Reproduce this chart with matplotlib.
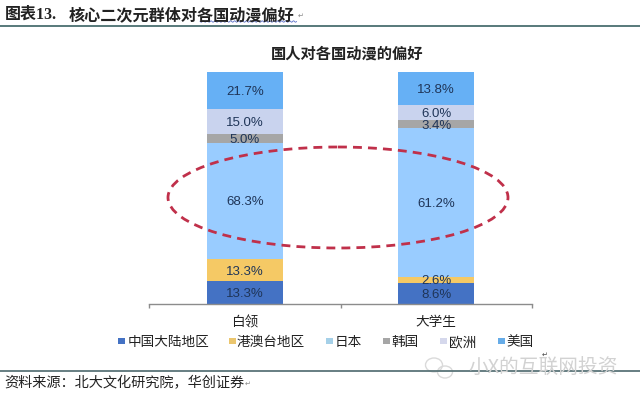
import matplotlib
matplotlib.use('Agg')
import matplotlib.pyplot as plt
from matplotlib.patches import Ellipse, Rectangle
import numpy as np

plt.rcParams['font.family'] = ['Noto Sans CJK SC', 'DejaVu Sans']

categories = ['白领', '大学生']
series_names = ['中国大陆地区', '港澳台地区', '日本', '韩国', '欧洲', '美国']
mainland = [13.3, 8.6]
hk_tw = [13.3, 2.6]
japan = [68.3, 61.2]
korea = [5.0, 3.4]
europe = [15.0, 6.0]
usa = [21.7, 13.8]
series = [mainland, hk_tw, japan, korea, europe, usa]
colors = ['#4472C4', '#F5C965', '#99CCFF', '#A6A6A6', '#C9D3EE', '#66B0F5']
legend_colors = ['#4472C4', '#EBC66E', '#A5D0E8', '#A6A6A6', '#D5D8EC', '#66ACE8']

W, H = 640, 403
fig = plt.figure(figsize=(W/100, H/100), dpi=100)

def box(l, t, r, b):
    return [l/W, 1-b/H, (r-l)/W, (b-t)/H]

ax = fig.add_axes(box(149, 72, 532, 304))
x = np.arange(len(categories))
totals = np.sum(series, axis=0)
bottom = np.zeros(2)
for vals, c in zip(series, colors):
    v = np.array(vals)
    h = v/totals*100
    ax.bar(x, h, 0.397, bottom=bottom, color=c, linewidth=0)
    for xi, b, hi, val in zip(x, bottom, h, v):
        ax.text(xi, b+hi/2, f'{val:.1f}%', ha='center', va='center_baseline', fontsize=9.5,
                color='#1F3558', family=['Liberation Sans'])
    bottom += h
ax.set_xlim(-0.5, 1.5)
ax.set_ylim(0, 100)
ax.set_yticks([])
ax.set_xticks([-0.5, 0.5, 1.5])
ax.set_xticklabels([])
ax.tick_params(axis='x', length=3, direction='out', color='#8C8C8C', width=1)
for s in ['top', 'left', 'right']:
    ax.spines[s].set_visible(False)
ax.spines['bottom'].set_color('#8C8C8C')
ax.spines['bottom'].set_linewidth(1)
for xi, c in zip(x, categories):
    ax.text(xi, -22/232, c, transform=ax.get_xaxis_transform(), ha='center', va='baseline',
            fontsize=9.8, color='#222222')

ov = fig.add_axes([0, 0, 1, 1], facecolor='none')
ov.set_xlim(0, W)
ov.set_ylim(H, 0)
ov.axis('off')

ov.add_patch(Ellipse((338, 197.5), 340, 101, fill=False, ec='#C0304A', lw=2,
                     ls=(0, (3.2, 2.2))))

serif = ['Liberation Serif', 'Noto Sans CJK SC']
ov.text(5, 15, '图表13.', fontsize=11.5, fontweight='bold', va='center', color='#222222', family=serif)
ov.text(69, 15, '核心二次元群体对各国动漫偏好', fontsize=11.6, fontweight='bold', va='center', color='#222222')
ov.text(301, 15.5, '↵', fontsize=5, va='center', ha='center', color='#888888', family=['DejaVu Sans'])

# spell-check underline in the header
wx = np.arange(200, 297, 0.5)
ov.plot(wx, 21.5 + 0.7*np.sin(wx*1.6), color='#5A6FC8', lw=0.6)

ov.plot([0, 640], [26, 26], color='#4A6E70', lw=1.3)
ov.plot([0, 640], [370.7, 370.7], color='#5A7478', lw=1.3)
ov.text(347, 54, '国人对各国动漫的偏好', fontsize=11, fontweight='bold', ha='center', va='center', color='#222222')
ov.text(4, 383, '资料来源\uff1a北大文化研究院\uff0c华创证券', fontsize=10.2, style='italic', va='center', color='#222222')
ov.text(248, 384, '↵', fontsize=5, va='center', ha='center', color='#888888', family=['DejaVu Sans'])
ov.text(545, 355, '↵', fontsize=5, va='center', ha='center', color='#444444', family=['DejaVu Sans'])

# watermark
ov.text(543, 368, '小X的互联网投资', fontsize=14.2, ha='center', va='center', color='#D2D2D2')
ov.add_patch(Ellipse((434, 365), 17, 14, fill=False, ec='#DADADA', lw=1))
ov.add_patch(Ellipse((445, 372), 15, 12, fill=False, ec='#DADADA', lw=1))

legend_sq = [118, 229, 326, 383, 440, 498]
legend_tx = [128, 237, 335, 391.5, 449, 506]
for lx, tx, n, c in zip(legend_sq, legend_tx, series_names, legend_colors):
    ov.add_patch(Rectangle((lx, 337.5), 6.5, 6.5, fc=c, ec='none'))
    ov.text(tx, 346, n, fontsize=9.8, va='baseline', color='#222222')

fig.savefig('out.png', dpi=100)
